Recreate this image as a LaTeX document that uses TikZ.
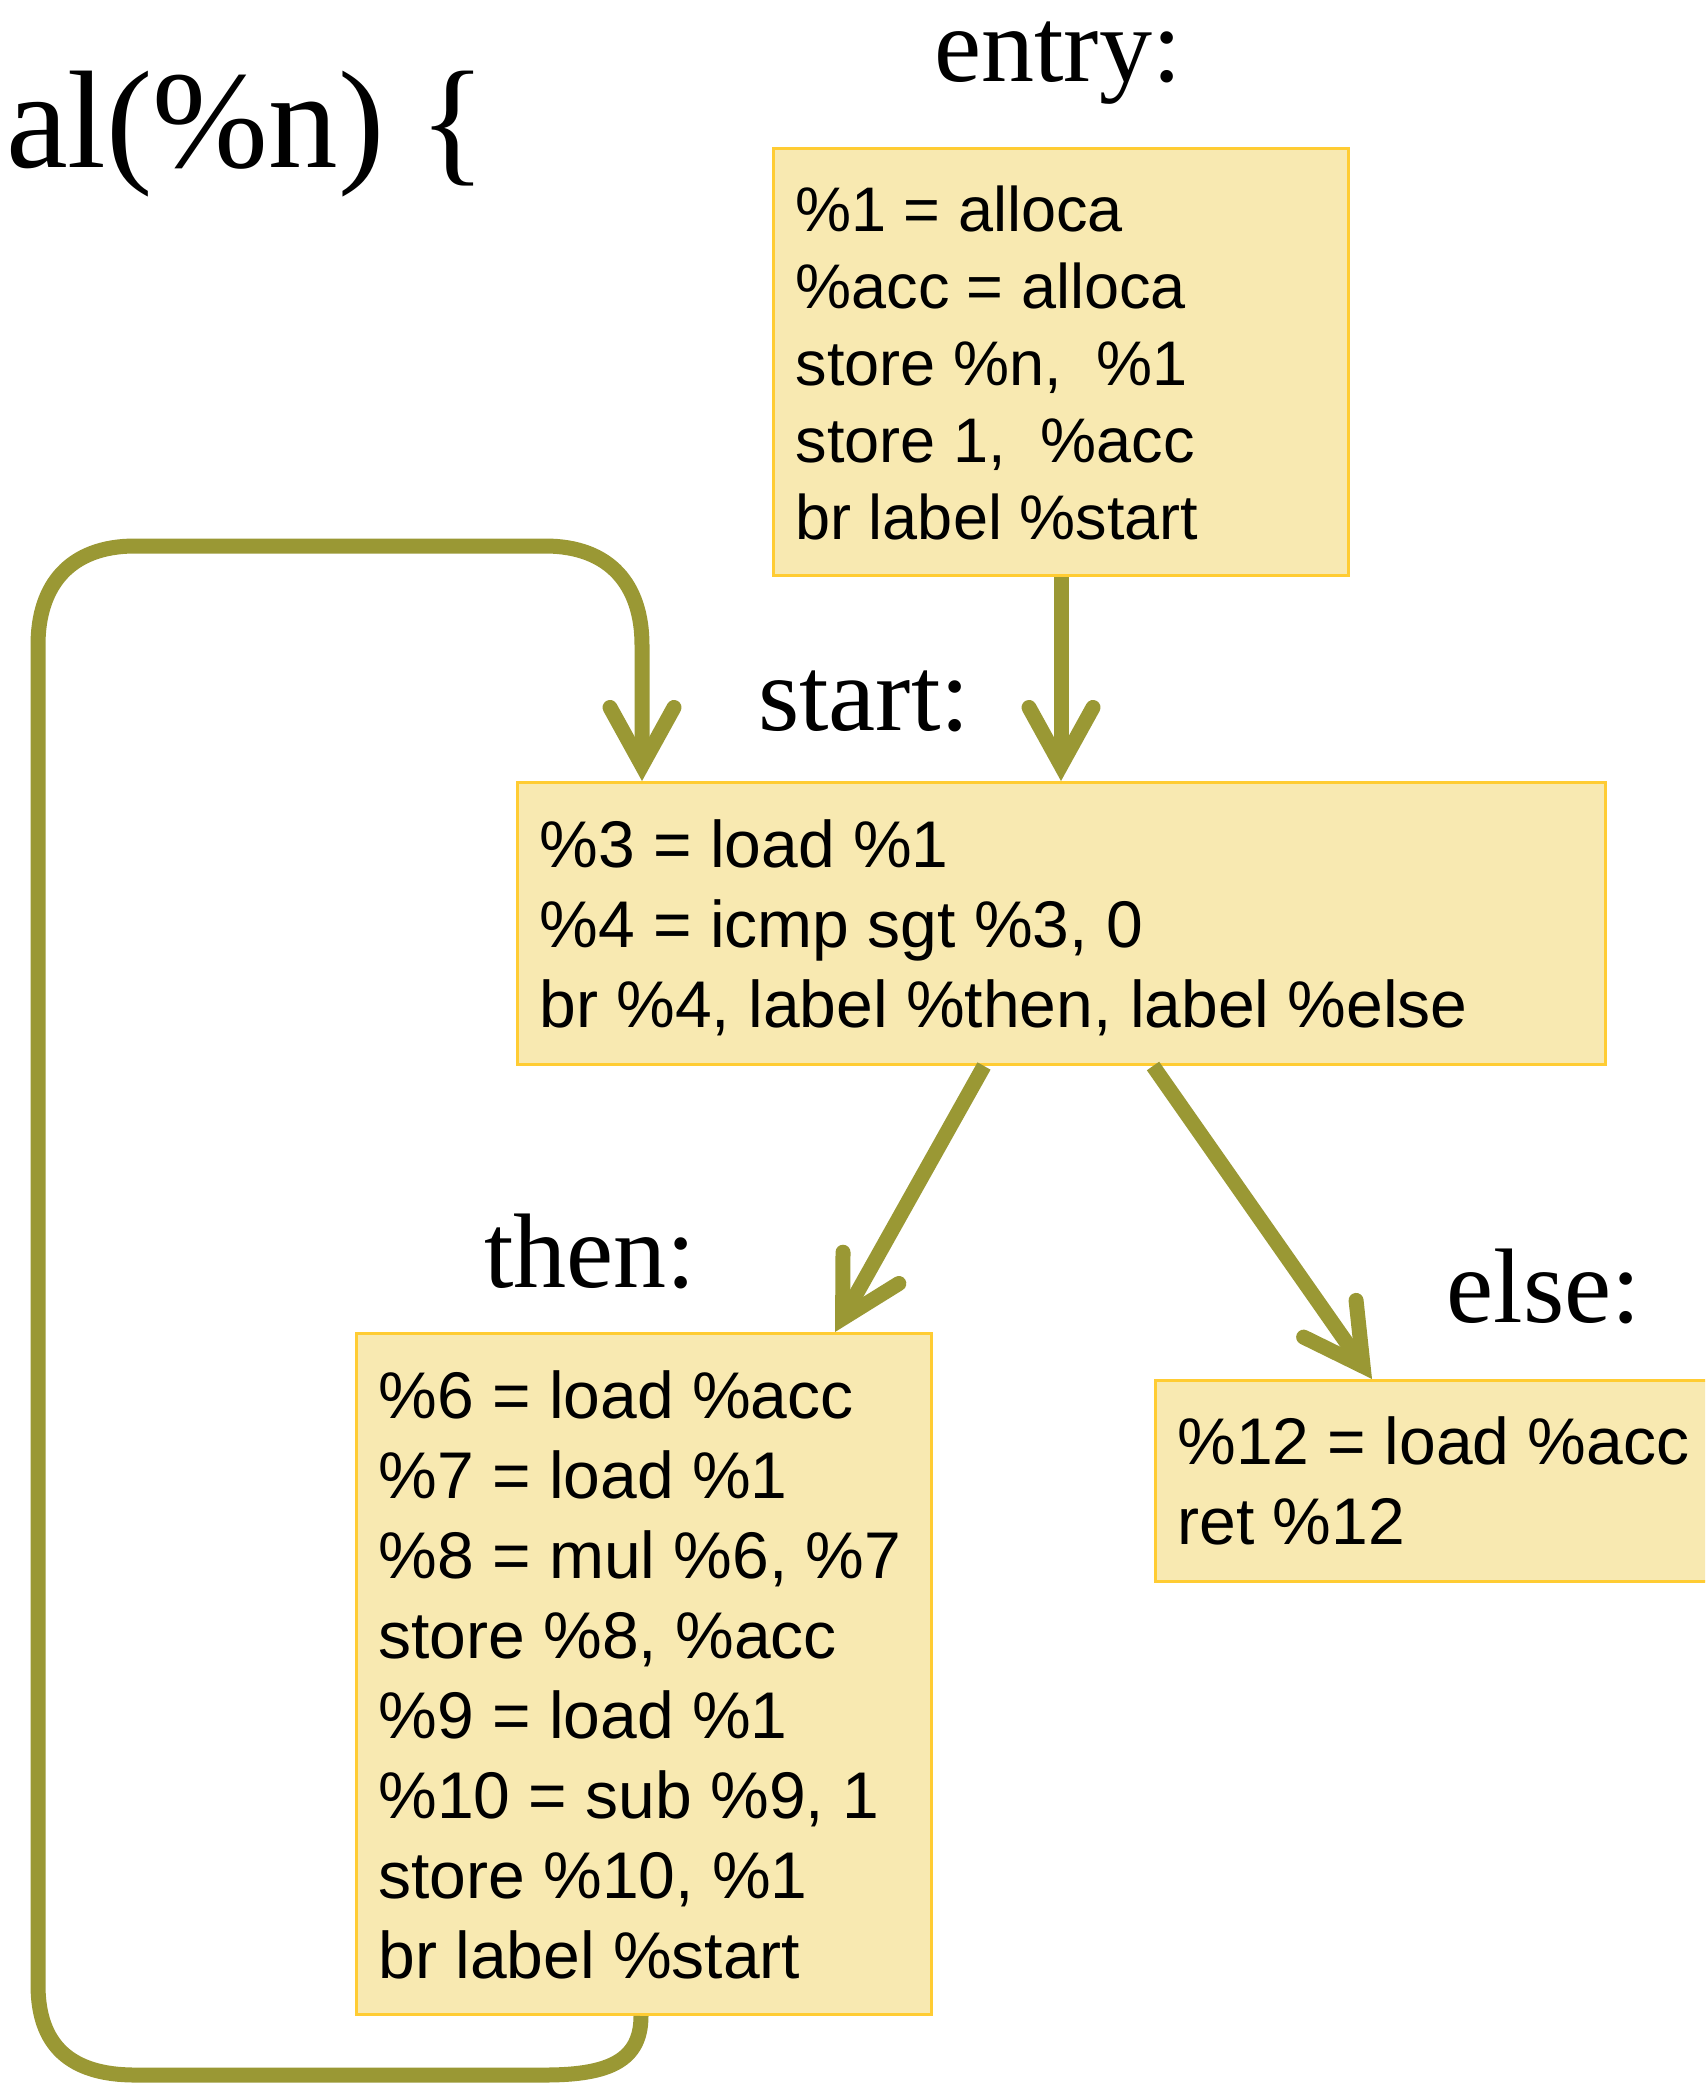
\documentclass[tikz,border=0pt]{standalone}
\usepackage{fontspec}
\setmainfont{Liberation Serif}
\newfontfamily\codefont{Liberation Sans}
\usetikzlibrary{arrows.meta,calc}

\definecolor{flowolive}{RGB}{154,152,52}
\definecolor{blockfill}{RGB}{248,233,177}
\definecolor{blockedge}{RGB}{255,204,51}

% #1 width, #2 height, #3 first baseline, #4 line pitch, #5 font size, #6 lines (\cl{...})
\newcommand\codeblock[6]{%
  \vbox to #2{\codefont\fontsize{#5}{#4}\selectfont
    \baselineskip=#4\relax\lineskip=0pt\lineskiplimit=-1000pt
    \def\cl##1{\hbox to #1{\hskip 22pt\smash{##1}\hss}}%
    \vskip #3\relax #6\vss}}

\begin{document}
\begin{tikzpicture}[x=1pt,y=-1pt,
  block/.style={draw=blockedge, fill=blockfill, line width=3pt, inner sep=0pt, anchor=north west},
  flow/.style={draw=flowolive, line width=15pt,
    -{Straight Barb[length=58pt,width=64pt,line cap=round,line join=miter]}},
  lbl/.style={font=\fontsize{106pt}{112pt}\selectfont, inner sep=0pt, anchor=base}]
\useasboundingbox (0,0) rectangle (1705,2087);
\clip (0,0) rectangle (1705,2087);

% function header
\node[anchor=base west, inner sep=0pt, font=\fontsize{139pt}{144pt}\selectfont] (title) at (6,168) {al(\%n) \{};

% block labels
\node[lbl] (lentry) at (1058,82) {entry:};
\node[lbl] (lstart) at (864,730) {start:};
\node[lbl] (lthen) at (590,1287) {then:};
\node[lbl] (lelse) at (1544,1322) {else:};

% basic blocks
\node[block] (entry) at (772,147) {\codeblock{575pt}{427pt}{83pt}{77pt}{63pt}{%
  \cl{\%1 = alloca}\cl{\%acc = alloca}\cl{store \%n,\ \ \%1}\cl{store 1,\ \ \%acc}\cl{br label \%start}}};
\node[block] (start) at (516,781) {\codeblock{1088pt}{282pt}{85pt}{80pt}{66pt}{%
  \cl{\%3 = load \%1}\cl{\%4 = icmp sgt \%3, 0}\cl{br \%4, label \%then, label \%else}}};
\node[block] (then) at (355,1332) {\codeblock{575pt}{681pt}{85pt}{80pt}{66pt}{%
  \cl{\%6 = load \%acc}\cl{\%7 = load \%1}\cl{\%8 = mul \%6, \%7}\cl{store \%8, \%acc}%
  \cl{\%9 = load \%1}\cl{\%10 = sub \%9, 1}\cl{store \%10, \%1}\cl{br label \%start}}};
\node[block] (else) at (1154,1379) {\codeblock{620pt}{201pt}{84pt}{80pt}{66pt}{%
  \cl{\%12 = load \%acc}\cl{ret \%12}}};

% control flow edges
\draw[flow] (entry.south) -- (entry.south |- start.north);
\draw[flow] ($(start.south west)+(468,0)$) -- ($(then.north west)+(480,0)$);
\draw[flow] ($(start.south west)+(637,0)$) -- ($(else.north west)+(218,0)$);

% back edge from then to start
\coordinate (loopout) at ($(then.south west)+(286,0)$);
\coordinate (loopin) at ($(start.north west)+(126,0)$);
\draw[flow] (loopout) .. controls (641,2060) and (610,2075) .. (545,2075)
  -- (135,2075) .. controls (70,2075) and (38,2045) .. (38,1985)
  -- (38,645) .. controls (38,585) and (70,546) .. (135,546)
  -- (545,546) .. controls (610,546) and (642,585) .. (642,645)
  -- (loopin);
\end{tikzpicture}
\end{document}
